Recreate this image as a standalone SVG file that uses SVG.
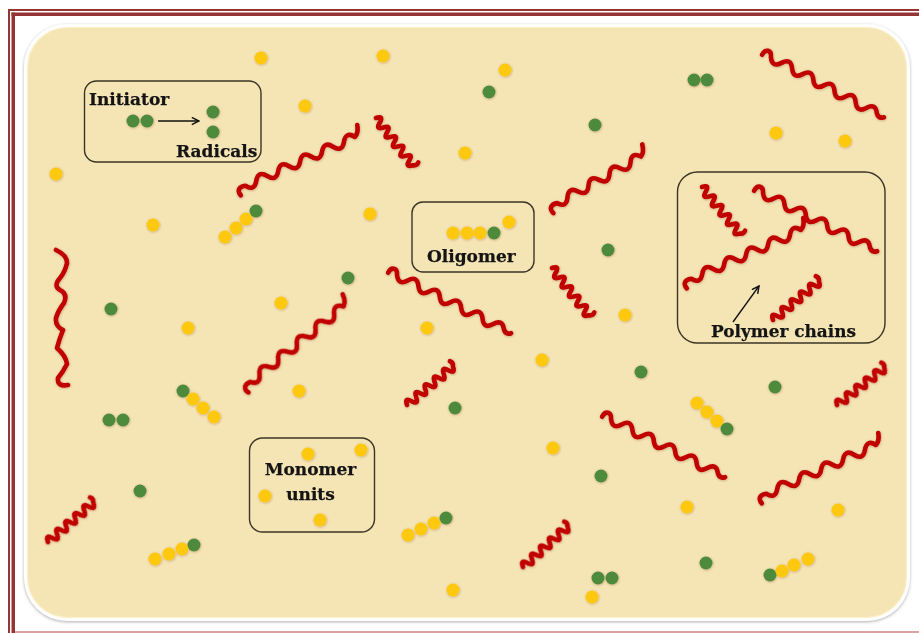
<svg xmlns="http://www.w3.org/2000/svg" xmlns:xlink="http://www.w3.org/1999/xlink" width="919" height="633" viewBox="0 0 919 633">
  <style>
    .frame { fill: #963634; }
    .y { fill: #fdc80c; }
    .g { fill: #4d8a3a; }
    .chain { fill: none; stroke: #c10000; stroke-width: 4.6; stroke-linecap: round; stroke-linejoin: round; }
    .box { fill: none; stroke: #3b3526; stroke-width: 1.4; }
    .lbl { font-family: "DejaVu Serif", "Liberation Serif", serif; font-weight: bold; font-size: 17px; fill: #141414; stroke: #141414; stroke-width: 0.25; }
    .arrow { fill: none; stroke: #111; stroke-width: 1.4; }
  </style>
  <defs>
    <filter id="panelShadow" x="-5%" y="-5%" width="110%" height="110%">
      <feDropShadow dx="0" dy="1" stdDeviation="1.6" flood-color="#8a8a8a" flood-opacity="0.7"/>
    </filter>
    <filter id="soft" x="-20%" y="-20%" width="140%" height="140%">
      <feDropShadow dx="0.4" dy="0.6" stdDeviation="0.8" flood-color="#5a1a00" flood-opacity="0.3"/>
    </filter>
    <marker id="head" viewBox="0 0 10 10" refX="9" refY="5" markerWidth="9" markerHeight="9" orient="auto" markerUnits="userSpaceOnUse">
      <path d="M1 1 L9 5 L1 9" fill="none" stroke="#111" stroke-width="1.6"/>
    </marker>
    <!-- long chain running down-right, curl at the start -->
    <path id="chainDown" class="chain" d="M0 2 c0 -7 6 -9 9 -2 q6 9 12 0 t12 0 t12 0 t12 0 t12 0 t12 0 t12 0 t12 0 t12 0 t12 0 q4 4 8 0"/>
    <!-- long chain running up-right, curl at the start, hook at the end -->
    <path id="chainUp" class="chain" d="M0 7 c-2 -6 2 -9 8 -7 q6 9 12 0 t12 0 t12 0 t12 0 t12 0 t12 0 t12 0 t12 0 t12 0 t12 0 q5 -2 7 -10"/>
    <path id="chainUpMid" class="chain" d="M0 7 c-2 -6 2 -9 8 -7 q6 9 12 0 t12 0 t12 0 t12 0 t12 0 t12 0 t12 0 t12 0 q5 -2 7 -10"/>
    <!-- short tightly kinked chain -->
    <path id="chainShort" class="chain" d="M0 0 q3 -8 6 0 t6 0 t6 0 t6 0 t6 0 t6 0 t6 0 t6 0 t6 0 t6 0 q3 -3 1 -6"/>
  </defs>

  <!-- page frame -->
  <rect x="0" y="0" width="919" height="633" fill="#ffffff"/>
  <rect class="frame" x="8" y="9" width="911" height="2"/>
  <rect class="frame" x="11.5" y="12.5" width="907.5" height="3.5"/>
  <rect class="frame" x="8" y="9" width="2" height="624"/>
  <rect class="frame" x="11.5" y="12.5" width="3.5" height="620.5"/>
  <rect x="15" y="631" width="904" height="2" fill="#d9a3a3"/>

  <!-- reaction vessel -->
  <rect x="24" y="24" width="886" height="597" rx="43" fill="#ffffff" filter="url(#panelShadow)"/>
  <rect x="27.5" y="27.5" width="879" height="590" rx="40" fill="#f5e4b4" stroke="#fbf0c8" stroke-width="1.2"/>

  <!-- polymer chains -->
  <g id="chains" filter="url(#soft)">
    <use xlink:href="#chainDown" transform="translate(763,53) rotate(28)"/>
    <use xlink:href="#chainDown" transform="translate(389,271) rotate(27)"/>
    <use xlink:href="#chainDown" transform="translate(603,415) rotate(27)"/>
    <use xlink:href="#chainUp" transform="translate(238,189) rotate(-24)"/>
    <use xlink:href="#chainUp" transform="translate(244,387) rotate(-39)"/>
    <use xlink:href="#chainUp" transform="translate(759,497) rotate(-24)"/>
    <use xlink:href="#chainUpMid" transform="translate(550,207) rotate(-29)"/>
    <use xlink:href="#chainShort" transform="translate(376,118) rotate(52)"/>
    <use xlink:href="#chainShort" transform="translate(552,268) rotate(52)"/>
    <use xlink:href="#chainShort" transform="translate(407,405) rotate(-40)"/>
    <use xlink:href="#chainShort" transform="translate(837,405) rotate(-38)"/>
    <use xlink:href="#chainShort" transform="translate(48,542) rotate(-41)"/>
    <use xlink:href="#chainShort" transform="translate(523,567) rotate(-42)"/>
    <path class="chain" d="M56 250 Q67 255 67 263 Q65 272 60 278 Q53 286 60 290 Q68 294 64 303 Q58 311 56 318 Q55 326 63 330 Q59 340 57 348 Q66 356 67 364 Q63 372 58 378 Q57 387 68 385"/>
  </g>

  <!-- free monomers, radicals and short oligomers -->
  <g id="particles" filter="url(#soft)">
    <circle class="y" cx="261" cy="58" r="6.5"/>
    <circle class="y" cx="383" cy="56" r="6.5"/>
    <circle class="y" cx="505" cy="70" r="6.5"/>
    <circle class="y" cx="305" cy="106" r="6.5"/>
    <circle class="y" cx="56" cy="174" r="6.5"/>
    <circle class="y" cx="465" cy="153" r="6.5"/>
    <circle class="y" cx="776" cy="133" r="6.5"/>
    <circle class="y" cx="845" cy="141" r="6.5"/>
    <circle class="y" cx="153" cy="225" r="6.5"/>
    <circle class="y" cx="370" cy="214" r="6.5"/>
    <circle class="y" cx="281" cy="303" r="6.5"/>
    <circle class="y" cx="188" cy="328" r="6.5"/>
    <circle class="y" cx="427" cy="328" r="6.5"/>
    <circle class="y" cx="625" cy="315" r="6.5"/>
    <circle class="y" cx="542" cy="360" r="6.5"/>
    <circle class="y" cx="299" cy="391" r="6.5"/>
    <circle class="y" cx="553" cy="448" r="6.5"/>
    <circle class="y" cx="687" cy="507" r="6.5"/>
    <circle class="y" cx="838" cy="510" r="6.5"/>
    <circle class="y" cx="453" cy="590" r="6.5"/>
    <circle class="y" cx="592" cy="597" r="6.5"/>

    <circle class="g" cx="489" cy="92" r="6.5"/>
    <circle class="g" cx="595" cy="125" r="6.5"/>
    <circle class="g" cx="608" cy="250" r="6.5"/>
    <circle class="g" cx="348" cy="278" r="6.5"/>
    <circle class="g" cx="111" cy="309" r="6.5"/>
    <circle class="g" cx="641" cy="372" r="6.5"/>
    <circle class="g" cx="455" cy="408" r="6.5"/>
    <circle class="g" cx="775" cy="387" r="6.5"/>
    <circle class="g" cx="140" cy="491" r="6.5"/>
    <circle class="g" cx="601" cy="476" r="6.5"/>
    <circle class="g" cx="706" cy="563" r="6.5"/>

    <circle class="g" cx="694" cy="80" r="6.5"/>
    <circle class="g" cx="707" cy="80" r="6.5"/>
    <circle class="g" cx="109" cy="420" r="6.5"/>
    <circle class="g" cx="123" cy="420" r="6.5"/>
    <circle class="g" cx="598" cy="578" r="6.5"/>
    <circle class="g" cx="612" cy="578" r="6.5"/>

    <circle class="y" cx="225" cy="237" r="6.5"/>
    <circle class="y" cx="236" cy="228" r="6.5"/>
    <circle class="y" cx="246" cy="219" r="6.5"/>
    <circle class="g" cx="256" cy="211" r="6.5"/>

    <circle class="g" cx="183" cy="391" r="6.5"/>
    <circle class="y" cx="193" cy="399" r="6.5"/>
    <circle class="y" cx="203" cy="408" r="6.5"/>
    <circle class="y" cx="214" cy="417" r="6.5"/>

    <circle class="y" cx="697" cy="403" r="6.5"/>
    <circle class="y" cx="707" cy="412" r="6.5"/>
    <circle class="y" cx="717" cy="421" r="6.5"/>
    <circle class="g" cx="727" cy="429" r="6.5"/>

    <circle class="y" cx="408" cy="535" r="6.5"/>
    <circle class="y" cx="421" cy="529" r="6.5"/>
    <circle class="y" cx="434" cy="523" r="6.5"/>
    <circle class="g" cx="446" cy="518" r="6.5"/>

    <circle class="y" cx="155" cy="559" r="6.5"/>
    <circle class="y" cx="169" cy="554" r="6.5"/>
    <circle class="y" cx="182" cy="549" r="6.5"/>
    <circle class="g" cx="194" cy="545" r="6.5"/>

    <circle class="g" cx="770" cy="575" r="6.5"/>
    <circle class="y" cx="782" cy="571" r="6.5"/>
    <circle class="y" cx="794" cy="565" r="6.5"/>
    <circle class="y" cx="808" cy="559" r="6.5"/>
  </g>

  <!-- initiator decomposing into radicals -->
  <g id="initiator">
    <rect class="box" x="84.5" y="81" width="176.5" height="81" rx="12"/>
    <text class="lbl" x="89" y="105">Initiator</text>
    <g filter="url(#soft)">
      <circle class="g" cx="133" cy="121" r="6.5"/>
      <circle class="g" cx="147" cy="121" r="6.5"/>
      <circle class="g" cx="213" cy="112" r="6.5"/>
      <circle class="g" cx="213" cy="132" r="6.5"/>
    </g>
    <text class="lbl" x="176" y="157">Radicals</text>
  </g>

  <!-- oligomer -->
  <g id="oligomer">
    <rect class="box" x="412" y="202" width="122" height="70" rx="11"/>
    <g filter="url(#soft)">
      <circle class="y" cx="453" cy="233" r="6.5"/>
      <circle class="y" cx="467" cy="233" r="6.5"/>
      <circle class="y" cx="480" cy="233" r="6.5"/>
      <circle class="g" cx="494" cy="233" r="6.5"/>
      <circle class="y" cx="509" cy="222" r="6.5"/>
    </g>
    <text class="lbl" x="427" y="262">Oligomer</text>
  </g>

  <!-- monomer units -->
  <g id="monomer-units">
    <rect class="box" x="249.5" y="438" width="125" height="94" rx="13"/>
    <g filter="url(#soft)">
      <circle class="y" cx="308" cy="454" r="6.5"/>
      <circle class="y" cx="361" cy="450" r="6.5"/>
      <circle class="y" cx="265" cy="496" r="6.5"/>
      <circle class="y" cx="320" cy="520" r="6.5"/>
    </g>
    <text class="lbl" x="310.5" y="475" text-anchor="middle">Monomer</text>
    <text class="lbl" x="310.5" y="500" text-anchor="middle">units</text>
  </g>

  <!-- polymer chains -->
  <g id="polymer-chains">
    <rect class="box" x="677.5" y="172" width="207.5" height="171" rx="20"/>
    <g filter="url(#soft)">
      <use xlink:href="#chainDown" transform="translate(755,189) rotate(27)"/>
      <use xlink:href="#chainUp" transform="translate(684,282) rotate(-24)"/>
      <use xlink:href="#chainShort" transform="translate(702,187) rotate(51)"/>
      <use xlink:href="#chainShort" transform="translate(773,320) rotate(-40)"/>
    </g>
    <text class="lbl" x="711" y="337" textLength="145" lengthAdjust="spacingAndGlyphs">Polymer chains</text>
  </g>

  <!-- connectors -->
  <g id="connectors">
    <path class="arrow" d="M158 121 H199" marker-end="url(#head)"/>
    <path class="arrow" d="M733 322 L759 286" marker-end="url(#head)"/>
  </g>
</svg>
